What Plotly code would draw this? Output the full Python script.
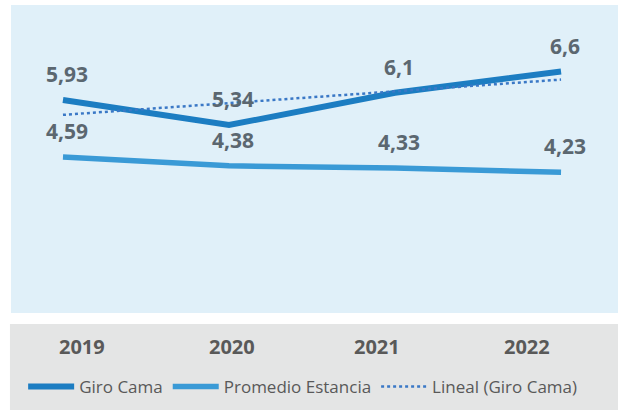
import plotly.graph_objects as go

years = ["2019", "2020", "2021", "2022"]
giro_cama = [5.93, 5.34, 6.1, 6.6]
promedio_estancia = [4.59, 4.38, 4.33, 4.23]
lineal_giro = [5.58, 5.86, 6.13, 6.41]

C_GIRO = "#1C7DC2"
C_PROM = "#3A9AD6"
C_TREND = "#3A78C6"
TXT = "#5B6770"

fig = go.Figure()
fig.add_trace(go.Scatter(x=years, y=giro_cama, name="Giro Cama", mode="lines",
                         line=dict(color=C_GIRO, width=6), hoverinfo="skip"))
fig.add_trace(go.Scatter(x=years, y=promedio_estancia, name="Promedio Estancia", mode="lines",
                         line=dict(color=C_PROM, width=5.5), hoverinfo="skip"))
fig.add_trace(go.Scatter(x=years, y=lineal_giro, name="Lineal (Giro Cama)", mode="lines",
                         line=dict(color=C_TREND, width=2.5, dash="dot"), hoverinfo="skip"))

def fmt(v):
    return f"{v:g}".replace(".", ",")

annotations = []
for series in (giro_cama, promedio_estancia):
    for i, v in enumerate(series):
        annotations.append(dict(x=i, y=v, xref="x", yref="y", text=fmt(v), showarrow=False,
                                xanchor="center", yanchor="middle", xshift=4, yshift=26,
                                font=dict(family="Open Sans", size=21, color=TXT, weight=700)))

# category labels in the grey band
label_pos = [0.117, 0.364, 0.603, 0.850]
for yr, px in zip(years, label_pos):
    annotations.append(dict(x=px, y=-0.110, xref="paper", yref="paper", text=yr, showarrow=False,
                            xanchor="center", yanchor="middle",
                            font=dict(family="Open Sans", size=20, color="#595959", weight=700)))

fig.update_layout(
    width=619, height=410,
    margin=dict(l=11, r=1, t=5, b=97),
    paper_bgcolor="white",
    plot_bgcolor="#E0F0F9",
    showlegend=True,
    legend=dict(orientation="h", x=0.02, xanchor="left", y=-0.24, yanchor="middle",
                bgcolor="rgba(0,0,0,0)", itemwidth=46,
                font=dict(family="Open Sans", size=17, color="#595959"),
                traceorder="normal"),
    xaxis=dict(type="category", range=[-0.313, 3.343], showticklabels=False, showgrid=False,
               zeroline=False, showline=False, fixedrange=True),
    yaxis=dict(range=[0.918, 8.165], showticklabels=False, showgrid=False, zeroline=False,
               showline=False, fixedrange=True),
    shapes=[dict(type="rect", xref="paper", yref="paper", x0=-0.0017, x1=1.0, y0=-0.0357, y1=-0.318,
                 fillcolor="#E4E5E5", line=dict(width=0), layer="below")],
    annotations=annotations,
)

fig.write_html("out.html", config={"displayModeBar": False},
               post_script="document.body.style.margin='0';")
